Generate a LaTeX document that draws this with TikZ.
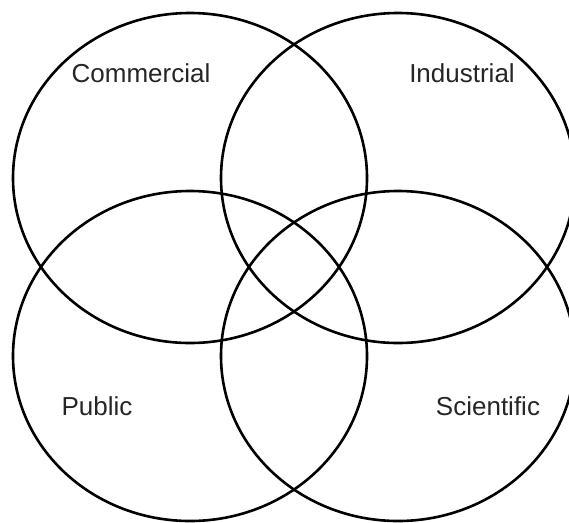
\documentclass[tikz,border=0pt]{standalone}
\usepackage{fontspec}
\setmainfont{Liberation Sans}
\usetikzlibrary{shapes.geometric}
\begin{document}
\begin{tikzpicture}[x=1pt,y=-1pt,
  ring/.style={draw=black, ellipse, line width=2.6pt, minimum width=354pt, minimum height=330pt, inner sep=0pt},
  lbl/.style={anchor=base, inner sep=0pt, text=black!85, font=\fontsize{26}{30}\selectfont}]
\useasboundingbox (0,0) rectangle (569,522);
\clip (0,0) rectangle (569,522);
\fill[white] (0,0) rectangle (569,522);
\node[ring] (c1) at (190,178) {};
\node[ring] (c2) at (398,178) {};
\node[ring] (c3) at (190,356) {};
\node[ring] (c4) at (398,356) {};
\node[lbl] (t1) at (141,82) {Commercial};
\node[lbl] (t2) at (462,82) {Industrial};
\node[lbl] (t3) at (97,415) {Public};
\node[lbl] (t4) at (488,415) {Scientific};
\end{tikzpicture}
\end{document}
